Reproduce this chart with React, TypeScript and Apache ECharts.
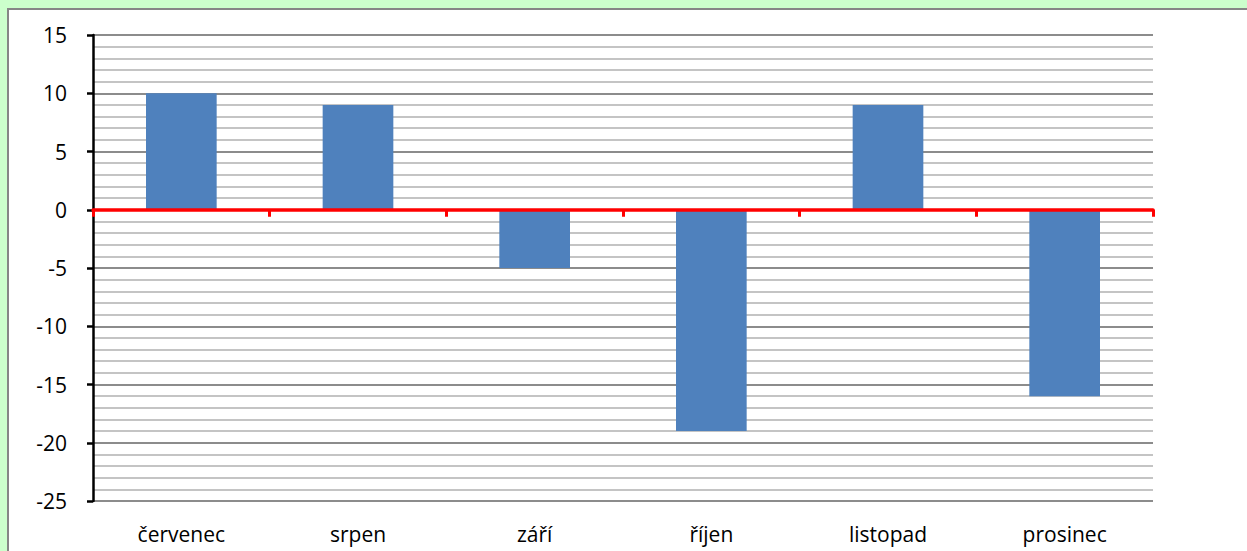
import React, { useEffect, useRef } from "react";
import * as echarts from "echarts";

const categories = ["červenec", "srpen", "září", "říjen", "listopad", "prosinec"];
const values = [10, 9, -5, -19, 9, -16];
const yMin = -25;
const yMax = 15;
const yInterval = 5;

export default function App() {
  const ref = useRef<HTMLDivElement>(null);
  useEffect(() => {
    if (!ref.current) return;
    const chart = echarts.init(ref.current, undefined, { renderer: "svg" });
    const font = "'Open Sans', 'Noto Sans', sans-serif";
    chart.setOption({
      animation: false,
      backgroundColor: "#ccffcc",
      graphic: [
        {
          type: "rect",
          shape: { x: 8, y: 9, width: 1260, height: 560 },
          style: { fill: "#ffffff", stroke: "#868686", lineWidth: 2 },
          z: -10,
          silent: true,
        },
      ],
      grid: { left: 93, right: 94, top: 35, bottom: 50, containLabel: false },
      xAxis: [
        {
          type: "category",
          data: categories,
          axisLine: { onZero: true, lineStyle: { color: "#ff0000", width: 3.5 } },
          axisTick: { show: true, length: 7, lineStyle: { color: "#ff0000", width: 3 } },
          axisLabel: { show: false },
          splitLine: { show: false },
          z: 10,
        },
        {
          type: "category",
          data: categories,
          position: "bottom",
          axisLine: { show: false, onZero: false },
          axisTick: { show: false },
          axisLabel: {
            show: true,
            color: "#000",
            fontFamily: font,
            fontSize: 21,
            margin: 22,
          },
        },
      ],
      yAxis: {
        type: "value",
        min: yMin,
        max: yMax,
        interval: yInterval,
        axisLine: { show: true, lineStyle: { color: "#000", width: 2.5 } },
        axisTick: { show: true, length: 6, lineStyle: { color: "#000", width: 2.5 } },
        axisLabel: {
          color: "#000",
          fontFamily: font,
          fontSize: 21,
          margin: 26,
        },
        splitLine: { show: true, lineStyle: { color: "#8c8c8c", width: 2 } },
        minorTick: { show: false, splitNumber: 5 },
        minorSplitLine: { show: true, lineStyle: { color: "#c4c4c4", width: 2 } },
      },
      series: [
        {
          type: "bar",
          data: values,
          xAxisIndex: 0,
          barWidth: "40%",
          itemStyle: { color: "#4f81bd" },
          z: 5,
        },
      ],
    });
    return () => chart.dispose();
  }, []);
  return (
    <div
      ref={ref}
      style={{ position: "absolute", left: 0, top: 0, width: 1247, height: 551 }}
    />
  );
}
